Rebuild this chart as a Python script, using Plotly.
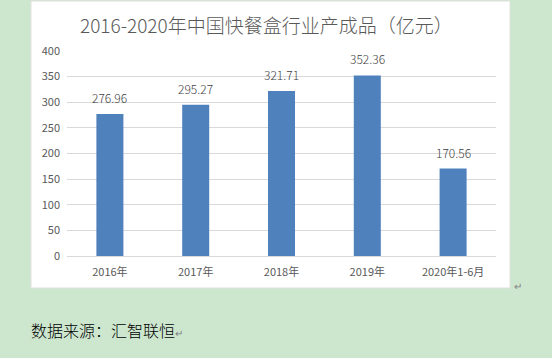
import plotly.graph_objects as go

categories = ["2016年", "2017年", "2018年", "2019年", "2020年1-6月"]
values = [276.96, 295.27, 321.71, 352.36, 170.56]
value_labels = ["276.96", "295.27", "321.71", "352.36", "170.56"]
y_ticks = [0, 50, 100, 150, 200, 250, 300, 350, 400]

W, H = 552, 358
L, R, T, B = 67, 56, 51, 102
pw, ph = W - L - R, H - T - B

def px(x):
    return (x - L) / pw

def py(y):
    return (H - B - y) / ph

CJK = "Noto Sans CJK SC, Microsoft YaHei, sans-serif"

fig = go.Figure(go.Bar(
    x=categories, y=values,
    marker=dict(color="#4F81BD", line=dict(width=0)),
    width=0.315,
))

label_annotations = [
    dict(x=c, y=v, xref="x", yref="y", text=t, showarrow=False,
         xanchor="center", yanchor="bottom", yshift=6,
         font=dict(family=CJK, size=12, color="#404040", weight=300))
    for c, v, t in zip(categories, values, value_labels)
]

fig.update_layout(
    width=W, height=H,
    margin=dict(l=L, r=R, t=T, b=B),
    paper_bgcolor="#CDE7CF",
    plot_bgcolor="white",
    showlegend=False,
    font=dict(family=CJK, size=11, color="#595959"),
    xaxis=dict(showgrid=False, showline=True, linecolor="#D9D9D9", linewidth=1,
               ticks="", ticklabelstandoff=6,
               tickfont=dict(family=CJK, size=11, color="#595959")),
    yaxis=dict(range=[0, 400], tickvals=y_ticks, showgrid=True, gridcolor="#D9D9D9",
               gridwidth=1, zeroline=False, showline=False, ticks="",
               ticklabelstandoff=6,
               tickfont=dict(family=CJK, size=11, color="#595959")),
    shapes=[dict(type="rect", xref="paper", yref="paper", layer="below",
                 x0=px(31), x1=px(510), y0=py(288), y1=py(1),
                 fillcolor="white", line=dict(color="#E0E0E0", width=1))],
    annotations=label_annotations + [
        dict(text="2016-2020年中国快餐盒行业产成品（亿元）", xref="paper", yref="paper",
             x=px(266), y=py(24), xanchor="center", yanchor="middle", showarrow=False,
             font=dict(family=CJK, size=19, color="#595959", weight=300)),
        dict(text="数据来源：汇智联恒<span style='font-size:10px;color:#808080'>↵</span>",
             xref="paper", yref="paper",
             x=px(29), y=py(330), xanchor="left", yanchor="middle", showarrow=False,
             font=dict(family=CJK, size=16, color="#000000", weight=300)),
        dict(text="↵", xref="paper", yref="paper",
             x=px(512), y=py(285), xanchor="left", yanchor="middle", showarrow=False,
             font=dict(family=CJK, size=10, color="#808080")),
    ],
)

fig.write_html("out.html")
